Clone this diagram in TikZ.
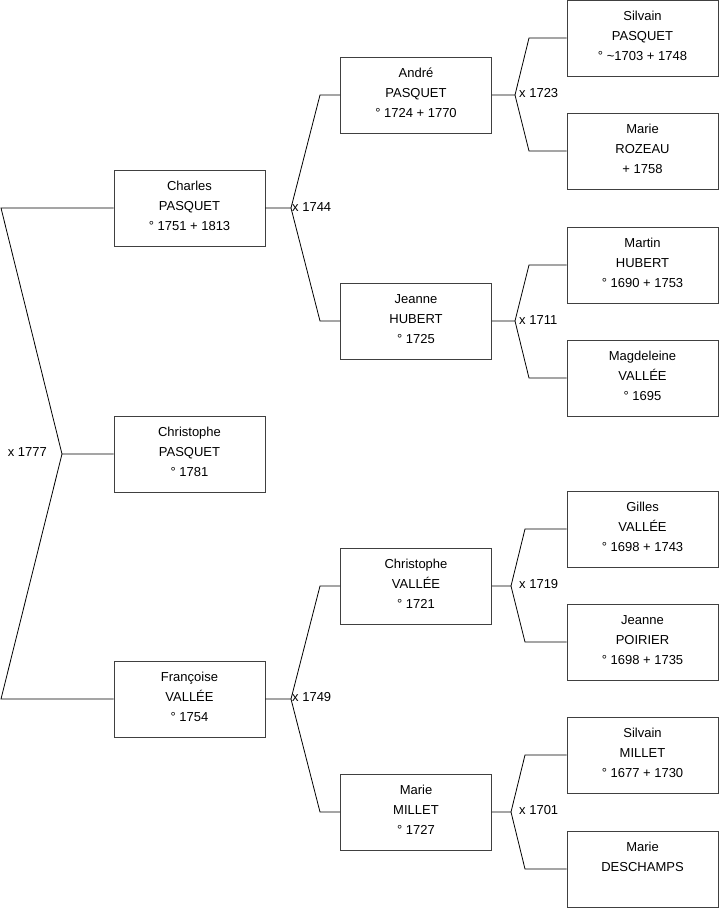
\documentclass[tikz,border=0pt]{standalone}
\usepackage{fontspec}
\setmainfont{Liberation Sans}
\begin{document}
\begin{tikzpicture}[x=1pt,y=-1pt,
  person/.style={draw=black!75, line width=0.9pt, fill=white, minimum width=151pt, minimum height=76pt,
    inner sep=0pt, align=center, text depth=4pt, font=\fontsize{13}{20}\selectfont},
  link/.style={draw=black, line width=0.8pt},
  marr/.style={font=\fontsize{13}{15}\selectfont, inner sep=0pt}]
\useasboundingbox (0,0) rectangle (719,908);
% column 1
\node[person] (charles) at (189.5,208) {Charles\\PASQUET\\° 1751 + 1813};
\node[person] (christophe) at (189.5,454) {Christophe\\PASQUET\\° 1781};
\node[person] (francoise) at (189.5,699) {Françoise\\VALLÉE\\° 1754};
% column 2
\node[person] (andre) at (416,95) {André\\PASQUET\\° 1724 + 1770};
\node[person] (jeanneh) at (416,321) {Jeanne\\HUBERT\\° 1725};
\node[person] (christophev) at (416,586) {Christophe\\VALLÉE\\° 1721};
\node[person] (mariem) at (416,812) {Marie\\MILLET\\° 1727};
% column 3
\node[person] (silvainp) at (642.5,38) {Silvain\\PASQUET\\° \textasciitilde1703 + 1748};
\node[person] (marier) at (642.5,151) {Marie\\ROZEAU\\ + 1758};
\node[person] (martin) at (642.5,265) {Martin\\HUBERT\\° 1690 + 1753};
\node[person] (magdeleine) at (642.5,378) {Magdeleine\\VALLÉE\\° 1695};
\node[person] (gilles) at (642.5,529) {Gilles\\VALLÉE\\° 1698 + 1743};
\node[person] (jeannep) at (642.5,642) {Jeanne\\POIRIER\\° 1698 + 1735};
\node[person] (silvainm) at (642.5,755) {Silvain\\MILLET\\° 1677 + 1730};
\node[person] (mariedes) at (642.5,869) {Marie\\DESCHAMPS\\\strut};
% level 1 fork
\coordinate (f1) at (62,454);
\coordinate (f1a) at (1,208);
\coordinate (f1b) at (1,699);
\draw[link] (christophe.west) -- (f1) -- (f1a) -- (charles.west);
\draw[link] (f1) -- (f1b) -- (francoise.west);
\node[marr, anchor=east] (m1777) at (47,452) {x 1777};
% level 2 forks
\coordinate (f2) at (291,208);
\coordinate (f2a) at (320,95);
\coordinate (f2b) at (320,321);
\draw[link] (charles.east) -- (f2) -- (f2a) -- (andre.west);
\draw[link] (f2) -- (f2b) -- (jeanneh.west);
\node[marr, anchor=west] (m1744) at (292,207) {x 1744};
\coordinate (f3) at (291,699);
\coordinate (f3a) at (320,586);
\coordinate (f3b) at (320,812);
\draw[link] (francoise.east) -- (f3) -- (f3a) -- (christophev.west);
\draw[link] (f3) -- (f3b) -- (mariem.west);
\node[marr, anchor=west] (m1749) at (292,697) {x 1749};
% level 3 forks
\coordinate (f4) at (515,95);
\coordinate (f4a) at (529,38);
\coordinate (f4b) at (529,151);
\draw[link] (andre.east) -- (f4) -- (f4a) -- (silvainp.west);
\draw[link] (f4) -- (f4b) -- (marier.west);
\node[marr, anchor=west] (m1723) at (519,93) {x 1723};
\coordinate (f5) at (515,321);
\coordinate (f5a) at (529,265);
\coordinate (f5b) at (529,378);
\draw[link] (jeanneh.east) -- (f5) -- (f5a) -- (martin.west);
\draw[link] (f5) -- (f5b) -- (magdeleine.west);
\node[marr, anchor=west] (m1711) at (519,320) {x 1711};
\coordinate (f6) at (511,586);
\coordinate (f6a) at (525,529);
\coordinate (f6b) at (525,642);
\draw[link] (christophev.east) -- (f6) -- (f6a) -- (gilles.west);
\draw[link] (f6) -- (f6b) -- (jeannep.west);
\node[marr, anchor=west] (m1719) at (519,584) {x 1719};
\coordinate (f7) at (511,812);
\coordinate (f7a) at (525,755);
\coordinate (f7b) at (525,869);
\draw[link] (mariem.east) -- (f7) -- (f7a) -- (silvainm.west);
\draw[link] (f7) -- (f7b) -- (mariedes.west);
\node[marr, anchor=west] (m1701) at (519,810) {x 1701};
\end{tikzpicture}
\end{document}
